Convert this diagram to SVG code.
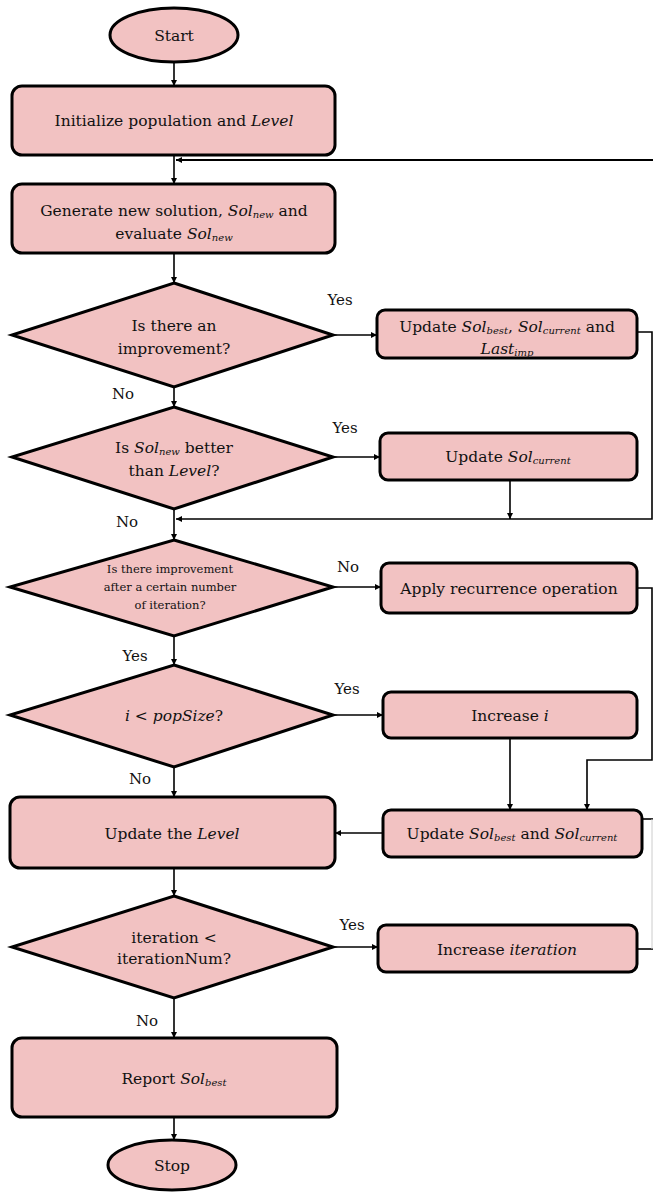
<svg xmlns="http://www.w3.org/2000/svg" width="653" height="1192" viewBox="0 0 653 1192">
<style>
.n{fill:#f2c2c2;stroke:#000;stroke-width:3}
.t{font-family:'DejaVu Serif','Liberation Serif',serif;font-size:15.5px;fill:#111;text-anchor:middle}
.sm{font-size:11.5px}
.l{font-family:'DejaVu Serif','Liberation Serif',serif;font-size:15px;fill:#111;text-anchor:middle}
.i{font-style:italic}
.s{font-size:10px;font-style:italic}
.c{stroke:#000;stroke-width:1.6;fill:none}
.a{marker-end:url(#ah)}
</style>
<defs>
<marker id="ah" viewBox="0 0 10 10" refX="10" refY="5" markerWidth="6" markerHeight="6" orient="auto" markerUnits="userSpaceOnUse"><path d="M0,0 L10,5 L0,10 z" fill="#000"/></marker>
</defs>
<rect width="653" height="1192" fill="#fff"/>
<g id="connectors">
<path class="c a" d="M174,62 V86"/>
<path class="c a" d="M174,155 V184"/>
<path class="c a" d="M653,160 H176" style="stroke-width:2"/>
<path class="c a" d="M174,253 V283"/>
<path class="c a" d="M333,335 H377"/>
<path class="c a" d="M637,332 H652 V519 H176"/>
<path class="c a" d="M174,387 V407"/>
<path class="c a" d="M333,457 H380"/>
<path class="c a" d="M510,480 V519"/>
<path class="c a" d="M174,509 V540"/>
<path class="c a" d="M333,587 H381"/>
<path class="c a" d="M637,588 H652 V760 H587 V810"/>
<path class="c a" d="M174,636 V665"/>
<path class="c a" d="M333,715 H383"/>
<path class="c a" d="M510,738 V810"/>
<path class="c a" d="M174,767 V797"/>
<path class="c a" d="M383,833 H335"/>
<path class="c a" d="M174,868 V896"/>
<path class="c a" d="M333,947 H378"/>
<path class="c" d="M637,949 H653"/>
<path class="c" d="M642,819 H653"/>
<path d="M652,819 V949" stroke="#ccc" stroke-width="1" fill="none"/>
<path class="c a" d="M174,998 V1038"/>
<path class="c a" d="M174,1117 V1140"/>
</g>
<g id="labels">
<text class="l" x="340" y="305">Yes</text>
<text class="l" x="123" y="399">No</text>
<text class="l" x="345" y="433">Yes</text>
<text class="l" x="127" y="527">No</text>
<text class="l" x="348" y="572">No</text>
<text class="l" x="135" y="661">Yes</text>
<text class="l" x="347" y="694">Yes</text>
<text class="l" x="140" y="784">No</text>
<text class="l" x="352" y="930">Yes</text>
<text class="l" x="147" y="1026">No</text>
</g>
<g id="start"><ellipse class="n" cx="174" cy="35" rx="64" ry="27"/><text class="t" x="174" y="41">Start</text></g>
<g id="init"><rect class="n" x="12" y="86" width="323" height="69" rx="10"/><text class="t" x="174" y="126">Initialize population and  <tspan class="i">Level</tspan></text></g>
<g id="generate"><rect class="n" x="12" y="184" width="323" height="69" rx="10"/>
<text class="t" x="174" y="216">Generate new solution, <tspan class="i">Sol</tspan><tspan class="s" dy="2">new</tspan><tspan dy="-2"> and</tspan></text>
<text class="t" x="174" y="239">evaluate <tspan class="i">Sol</tspan><tspan class="s" dy="2">new</tspan></text></g>
<g id="d-improve"><polygon class="n" points="174,283 333,335 174,387 12,335"/>
<text class="t" x="174" y="331">Is there an</text><text class="t" x="174" y="354">improvement?</text></g>
<g id="update1"><rect class="n" x="377" y="310" width="260" height="48" rx="8"/>
<text class="t" x="507" y="332">Update <tspan class="i">Sol</tspan><tspan class="s" dy="2">best</tspan><tspan dy="-2">, </tspan><tspan class="i">Sol</tspan><tspan class="s" dy="2">current</tspan><tspan dy="-2"> and</tspan></text>
<text class="t" x="507" y="354"><tspan class="i">Last</tspan><tspan class="s" dy="2">imp</tspan></text></g>
<g id="d-better"><polygon class="n" points="174,407 333,457 174,509 12,457"/>
<text class="t" x="174" y="453">Is <tspan class="i">Sol</tspan><tspan class="s" dy="2">new</tspan><tspan dy="-2"> better</tspan></text>
<text class="t" x="174" y="476">than <tspan class="i">Level</tspan>?</text></g>
<g id="update2"><rect class="n" x="380" y="433" width="257" height="47" rx="8"/>
<text class="t" x="508" y="462">Update <tspan class="i">Sol</tspan><tspan class="s" dy="2">current</tspan></text></g>
<g id="d-after"><polygon class="n" points="174,540 333,587 174,636 10,587"/>
<text class="t sm" x="170" y="573">Is there improvement</text>
<text class="t sm" x="170" y="591">after a certain  number</text>
<text class="t sm" x="170" y="609">of iteration?</text></g>
<g id="apply"><rect class="n" x="381" y="563" width="256" height="50" rx="8"/>
<text class="t" x="509" y="594">Apply recurrence operation</text></g>
<g id="d-pop"><polygon class="n" points="174,665 333,715 174,767 10,715"/>
<text class="t" x="174" y="721"><tspan class="i">i</tspan> &lt; <tspan class="i">popSize</tspan>?</text></g>
<g id="inc-i"><rect class="n" x="383" y="692" width="254" height="46" rx="8"/>
<text class="t" x="510" y="721">Increase <tspan class="i">i</tspan></text></g>
<g id="level"><rect class="n" x="10" y="797" width="325" height="71" rx="10"/>
<text class="t" x="172" y="839">Update the <tspan class="i">Level</tspan></text></g>
<g id="update3"><rect class="n" x="383" y="810" width="259" height="47" rx="8"/>
<text class="t" x="512" y="839">Update <tspan class="i">Sol</tspan><tspan class="s" dy="2">best</tspan><tspan dy="-2"> and </tspan><tspan class="i">Sol</tspan><tspan class="s" dy="2">current</tspan></text></g>
<g id="d-iter"><polygon class="n" points="174,896 333,947 174,998 12,947"/>
<text class="t" x="174" y="943">iteration &lt;</text>
<text class="t" x="174" y="964">iterationNum?</text></g>
<g id="inc-iter"><rect class="n" x="378" y="925" width="259" height="47" rx="8"/>
<text class="t" x="507" y="955">Increase <tspan class="i">iteration</tspan></text></g>
<g id="report"><rect class="n" x="12" y="1038" width="325" height="79" rx="10"/>
<text class="t" x="174" y="1084">Report <tspan class="i">Sol</tspan><tspan class="s" dy="2">best</tspan></text></g>
<g id="stop"><ellipse class="n" cx="172" cy="1165" rx="64" ry="25"/><text class="t" x="172" y="1171">Stop</text></g>
</svg>
